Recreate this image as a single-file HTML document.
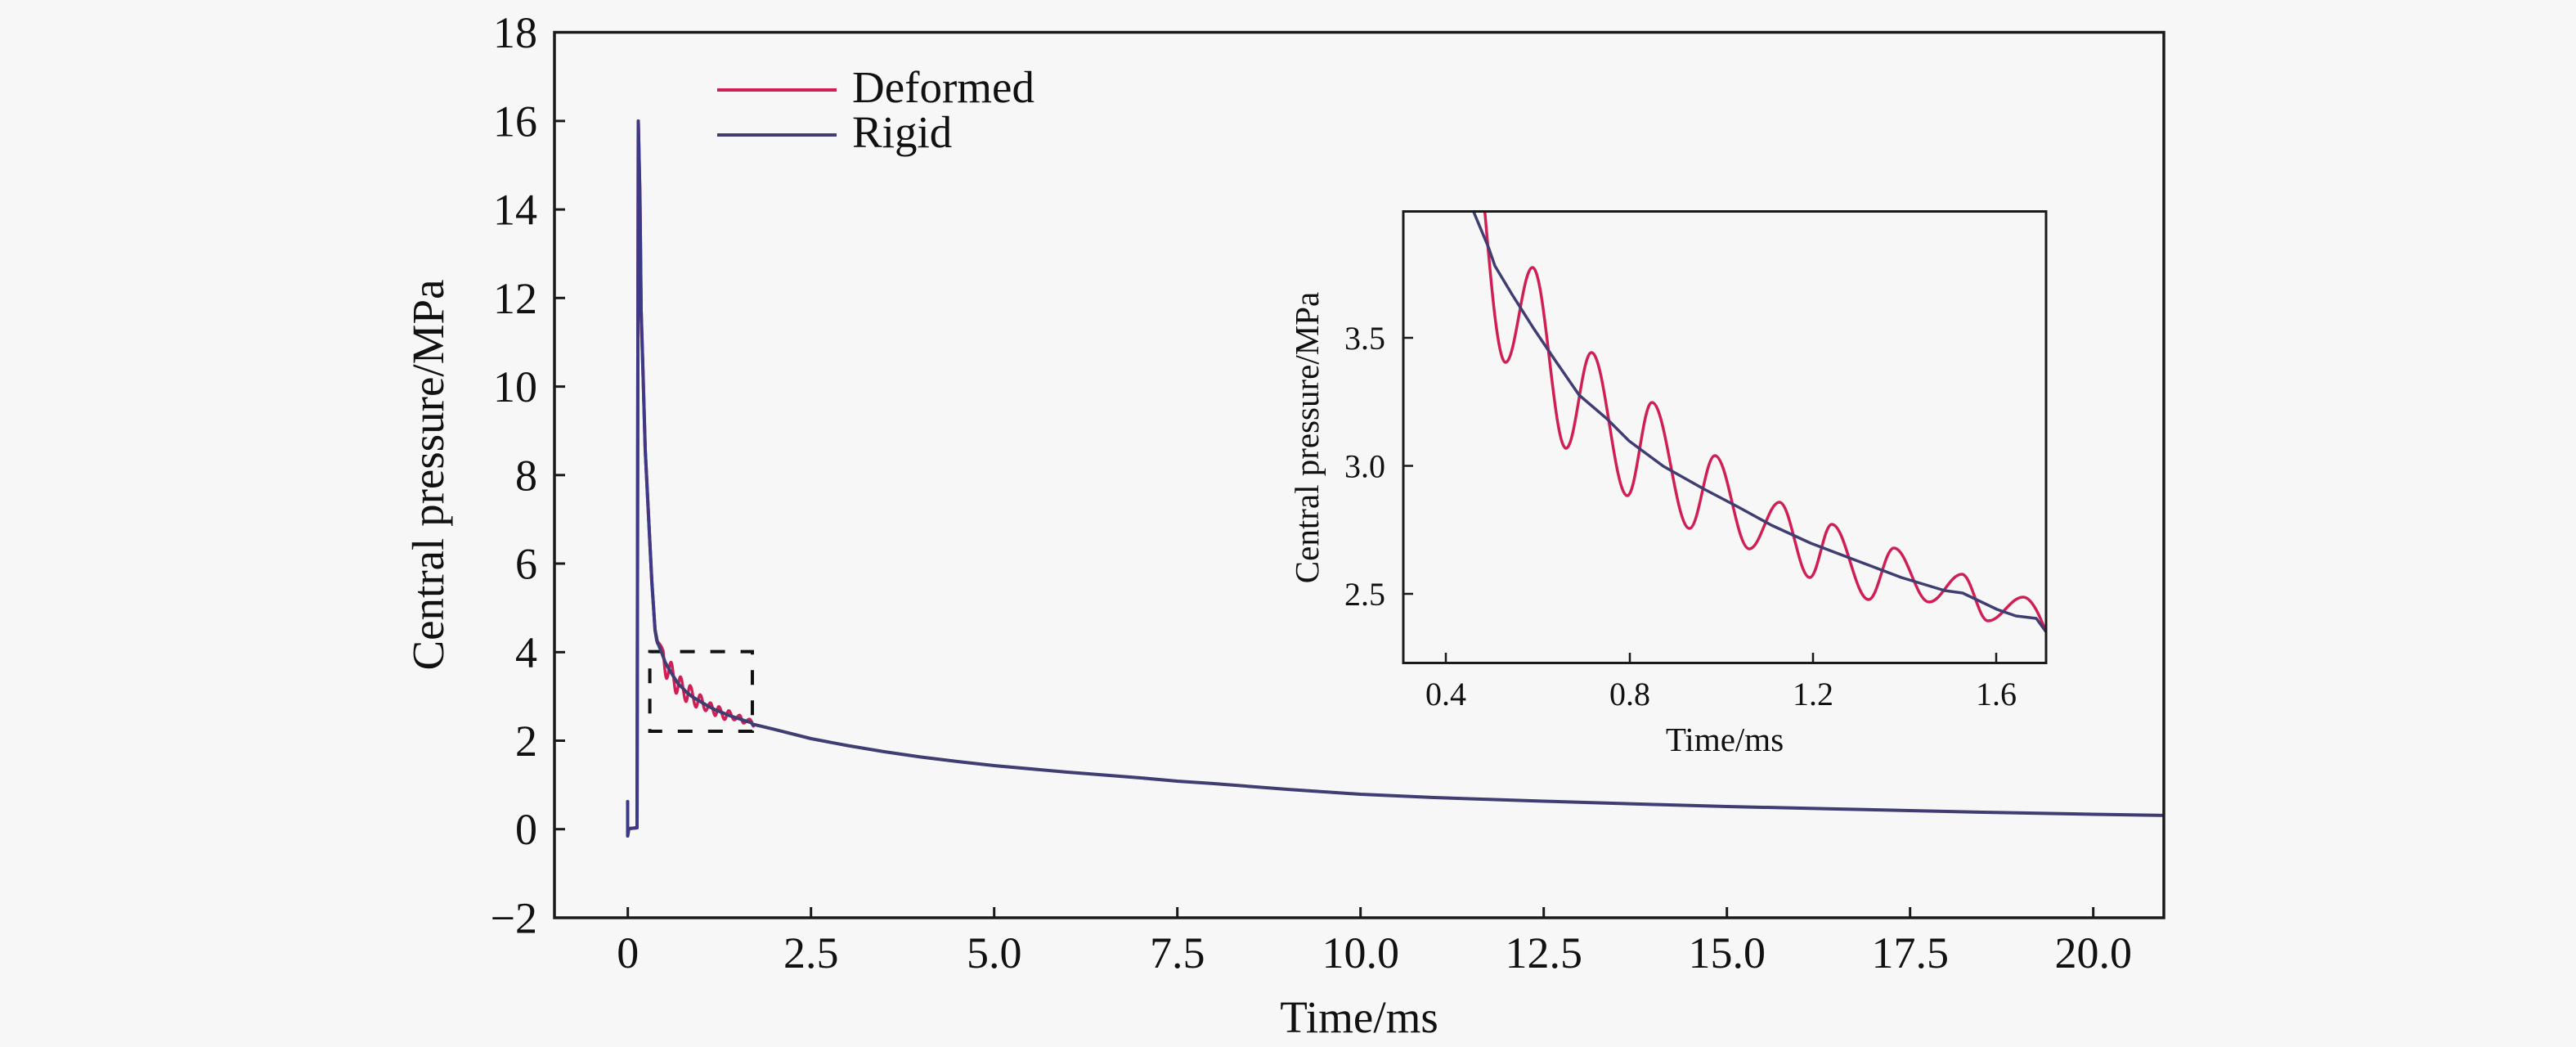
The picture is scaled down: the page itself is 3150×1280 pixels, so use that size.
<!DOCTYPE html>
<html>
<head>
<meta charset="utf-8">
<style>
html,body{margin:0;padding:0;background:#f7f7f7;}
svg{display:block;}
text{font-family:"Liberation Serif","Times New Roman",serif;fill:#111;}
</style>
</head>
<body>
<svg width="3150" height="1280" viewBox="0 0 3150 1280" xmlns="http://www.w3.org/2000/svg">
<defs>
<clipPath id="mainclip"><rect x="678" y="39" width="1968" height="1083"/></clipPath>
<clipPath id="insetclip"><rect x="1716" y="258" width="787" height="554"/></clipPath>
</defs>
<rect x="0" y="0" width="3150" height="1280" fill="#f7f7f7"/>

<!-- dashed zoom box -->
<rect x="794.6" y="796.6" width="125.4" height="97.4" fill="none" stroke="#111" stroke-width="4" stroke-dasharray="18 19"/>

<g clip-path="url(#mainclip)" fill="none" stroke-linejoin="round" stroke-linecap="round">
  <!-- Deformed (main) -->
  <path d="M767.5,980 L767.5,1022 L769,1013 L779,1012 L780.5,148 L782.5,240 L784,380 L786.5,463 L789,550 L792,610 L797,710 L801,770 L804,786" stroke="#d01f55" stroke-width="4"/>
  <path transform="matrix(0.15971 0 0 0.17294 521.17 752.9)" vector-effect="non-scaling-stroke" stroke="#d01f55" stroke-width="3.5"
    d="M1765,174 C1795,205 1810,225 1816,262 C1822,330 1831,443 1841,443 C1853.2,443 1861.8,327 1874,327 C1889.2,327 1899.8,548 1915,548 C1926.5,548 1934.5,431 1946,431 C1962.3,431 1973.7,606 1990,606 C2001.1,606 2008.9,492 2020,492 C2037,492 2049,646 2066,646 C2077.5,646 2085.5,557 2097,557 C2112.5,557 2123.5,671 2139,671 C2152.7,671 2162.3,614 2176,614 C2189.7,614 2199.3,706 2213,706 C2223,706 2230,641 2240,641 C2256.7,641 2268.3,733 2285,733 C2296.5,733 2304.5,670 2316,670 C2331.9,670 2343.1,736 2359,736 C2373.8,736 2384.2,702 2399,702 C2410.8,702 2419.2,759 2431,759 C2446.9,759 2458.1,730 2474,730 C2486,730 2497,760 2505,780"/>
  <!-- Rigid (main) -->
  <path d="M767.5,980 L767.5,1022 L769,1013 L779,1012 L780.5,148 L782.5,240 L784,380 L786.5,463 L789,550 L792,610 L797,710 L801,770 L804,786" stroke="#3c3a86" stroke-width="4"/>
  <path transform="matrix(0.15971 0 0 0.17294 521.17 752.9)" vector-effect="non-scaling-stroke" stroke="#3f3d72" stroke-width="4"
    d="M1752,99 L1765,174 L1790,230 L1802,259 L1820,302 L1828,325 L1849,360 L1875,401 L1902,441 L1931,483 L1965,512 L1992,539 L2034,570 L2082,597 L2124,619 L2166,642 L2214,664 L2272,686 L2325,706 L2378,722 L2442,742 L2489,755 L2503,774"/>
  <path d="M921,885.5 L946.9,891.7 L991.7,903 L1036.5,911.5 L1081.3,919 L1126.1,925.5 L1170.9,931 L1215.7,936 L1305.3,944 L1394.9,951 L1439.7,955 L1484.5,958 L1574.1,965 L1663.7,971 L1753.3,975 L1887.7,979.5 L2022.1,983.5 L2111.7,986 L2246.1,989 L2335.7,991 L2425.3,993 L2559.7,995.5 L2650,997" stroke="#3f3d72" stroke-width="4"/>
</g>

<!-- main spines -->
<rect x="678" y="39.5" width="1968" height="1082.5" fill="none" stroke="#1a1a1a" stroke-width="3.5"/>

<!-- main x ticks -->
<g stroke="#1a1a1a" stroke-width="3">
  <line x1="767.7" y1="1122" x2="767.7" y2="1109"/>
  <line x1="991.7" y1="1122" x2="991.7" y2="1109"/>
  <line x1="1215.7" y1="1122" x2="1215.7" y2="1109"/>
  <line x1="1439.7" y1="1122" x2="1439.7" y2="1109"/>
  <line x1="1663.7" y1="1122" x2="1663.7" y2="1109"/>
  <line x1="1887.7" y1="1122" x2="1887.7" y2="1109"/>
  <line x1="2111.7" y1="1122" x2="2111.7" y2="1109"/>
  <line x1="2335.7" y1="1122" x2="2335.7" y2="1109"/>
  <line x1="2559.7" y1="1122" x2="2559.7" y2="1109"/>
  <!-- y ticks -->
  <line x1="678" y1="1013.7" x2="691" y2="1013.7"/>
  <line x1="678" y1="905.5" x2="691" y2="905.5"/>
  <line x1="678" y1="797.3" x2="691" y2="797.3"/>
  <line x1="678" y1="689" x2="691" y2="689"/>
  <line x1="678" y1="580.8" x2="691" y2="580.8"/>
  <line x1="678" y1="472.6" x2="691" y2="472.6"/>
  <line x1="678" y1="364.3" x2="691" y2="364.3"/>
  <line x1="678" y1="256.1" x2="691" y2="256.1"/>
  <line x1="678" y1="147.9" x2="691" y2="147.9"/>
</g>

<!-- main x tick labels -->
<g font-size="54" text-anchor="middle">
  <text x="767.7" y="1183">0</text>
  <text x="991.7" y="1183">2.5</text>
  <text x="1215.7" y="1183">5.0</text>
  <text x="1439.7" y="1183">7.5</text>
  <text x="1663.7" y="1183">10.0</text>
  <text x="1887.7" y="1183">12.5</text>
  <text x="2111.7" y="1183">15.0</text>
  <text x="2335.7" y="1183">17.5</text>
  <text x="2559.7" y="1183">20.0</text>
</g>
<!-- main y tick labels -->
<g font-size="54" text-anchor="end">
  <text x="657" y="1140.5">−2</text>
  <text x="657" y="1032.2">0</text>
  <text x="657" y="924">2</text>
  <text x="657" y="815.8">4</text>
  <text x="657" y="707.5">6</text>
  <text x="657" y="599.3">8</text>
  <text x="657" y="491.1">10</text>
  <text x="657" y="382.8">12</text>
  <text x="657" y="274.6">14</text>
  <text x="657" y="166.4">16</text>
  <text x="657" y="58.2">18</text>
</g>

<!-- axis labels -->
<text x="1662" y="1262" font-size="55" text-anchor="middle">Time/ms</text>
<text transform="translate(542,580.5) rotate(-90)" x="0" y="0" font-size="55" text-anchor="middle">Central pressure/MPa</text>

<!-- legend -->
<line x1="877" y1="110" x2="1023" y2="110" stroke="#d01f55" stroke-width="4"/>
<line x1="877" y1="165" x2="1023" y2="165" stroke="#3f3d72" stroke-width="4"/>
<text x="1042" y="125" font-size="55">Deformed</text>
<text x="1042" y="180" font-size="55">Rigid</text>

<!-- inset -->
<rect x="1716" y="258.5" width="786" height="552" fill="#f7f7f7"/>
<g clip-path="url(#insetclip)" fill="none" stroke-linejoin="round" stroke-linecap="round">
  <path stroke="#d01f55" stroke-width="3.5"
    d="M1765,174 C1795,205 1810,225 1816,262 C1822,330 1831,443 1841,443 C1853.2,443 1861.8,327 1874,327 C1889.2,327 1899.8,548 1915,548 C1926.5,548 1934.5,431 1946,431 C1962.3,431 1973.7,606 1990,606 C2001.1,606 2008.9,492 2020,492 C2037,492 2049,646 2066,646 C2077.5,646 2085.5,557 2097,557 C2112.5,557 2123.5,671 2139,671 C2152.7,671 2162.3,614 2176,614 C2189.7,614 2199.3,706 2213,706 C2223,706 2230,641 2240,641 C2256.7,641 2268.3,733 2285,733 C2296.5,733 2304.5,670 2316,670 C2331.9,670 2343.1,736 2359,736 C2373.8,736 2384.2,702 2399,702 C2410.8,702 2419.2,759 2431,759 C2446.9,759 2458.1,730 2474,730 C2486,730 2497,760 2505,780"/>
  <path stroke="#3f3d72" stroke-width="3.5"
    d="M1752,99 L1765,174 L1790,230 L1802,259 L1820,302 L1828,325 L1849,360 L1875,401 L1902,441 L1931,483 L1965,512 L1992,539 L2034,570 L2082,597 L2124,619 L2166,642 L2214,664 L2272,686 L2325,706 L2378,722 L2400,725 L2442,745 L2465,753 L2490,756 L2503,774"/>
</g>
<rect x="1716" y="258.5" width="786" height="552" fill="none" stroke="#1a1a1a" stroke-width="3"/>
<g stroke="#1a1a1a" stroke-width="2.5">
  <line x1="1768" y1="810.5" x2="1768" y2="798"/>
  <line x1="1993" y1="810.5" x2="1993" y2="798"/>
  <line x1="2217" y1="810.5" x2="2217" y2="798"/>
  <line x1="2441" y1="810.5" x2="2441" y2="798"/>
  <line x1="1716" y1="413" x2="1728" y2="413"/>
  <line x1="1716" y1="569.5" x2="1728" y2="569.5"/>
  <line x1="1716" y1="726" x2="1728" y2="726"/>
</g>
<g font-size="40" text-anchor="middle">
  <text x="1768" y="862">0.4</text>
  <text x="1993" y="862">0.8</text>
  <text x="2217" y="862">1.2</text>
  <text x="2441" y="862">1.6</text>
</g>
<g font-size="40" text-anchor="end">
  <text x="1694" y="427">3.5</text>
  <text x="1694" y="583.5">3.0</text>
  <text x="1694" y="740">2.5</text>
</g>
<text x="2109" y="918" font-size="41" text-anchor="middle">Time/ms</text>
<text transform="translate(1612,535) rotate(-90)" x="0" y="0" font-size="41" text-anchor="middle">Central pressure/MPa</text>
</svg>
</body>
</html>
